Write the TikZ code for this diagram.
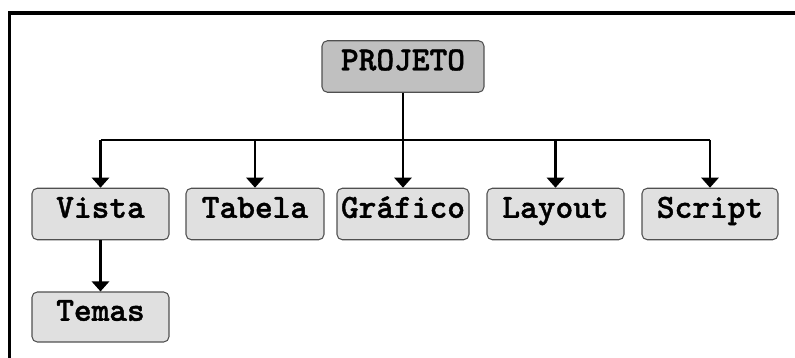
\documentclass[tikz,border=0pt]{standalone}
\usepackage{fontspec}
\setmonofont{lmmonolt10}[Extension=.otf, UprightFont=*-regular, BoldFont=*-bold, BoldFeatures={FakeBold=1.2}]
\usetikzlibrary{arrows.meta}
\definecolor{boxgray}{HTML}{E0E0E0}
\definecolor{topgray}{HTML}{C0C0C0}
\definecolor{edgegray}{HTML}{505050}
\tikzset{
  box/.style={draw=edgegray, line width=0.6pt, rounded corners=3pt, fill=boxgray,
    minimum height=1.03cm, inner sep=0pt, text height=1.35ex, text depth=0.35ex,
    font=\fontsize{19.2}{22}\selectfont\ttfamily\bfseries},
  conn/.style={line width=1.7pt, black},
  arr/.style={conn, -{Triangle[width=0.34cm,length=0.2cm]}},
}
\begin{document}
\begin{tikzpicture}[x=0.02cm,y=-0.02cm]
\useasboundingbox (0,0) rectangle (795,358);
\coordinate (fb) at (9.5,360);
\coordinate (fc) at (9.5,13);
\coordinate (fr) at (797,13);
\draw[line width=1.8pt] (fb) -- (fc) -- (fr);
\node[box, fill=topgray, minimum width=3.24cm] (P) at (403,66.5) {PROJETO};
\node[box, minimum width=2.74cm] (V) at (100.5,214) {Vista};
\node[box, minimum width=2.76cm] (T) at (255,214) {Tabela};
\node[box, minimum width=2.64cm] (G) at (403,214) {Gráfico};
\node[box, minimum width=2.74cm] (L) at (555.5,214) {Layout};
\node[box, minimum width=2.72cm] (S) at (710,214) {Script};
\node[box, minimum width=2.74cm, minimum height=1.0cm] (M) at (100.5,317) {Temas};
\coordinate (bar) at (403,140);
\coordinate (bl) at (V.north |- bar);
\coordinate (br) at (S.north |- bar);
\draw[conn] (bl) -- (br);
\draw[arr] (P.south) -- (G.north);
\draw[arr] (bl) -- (V.north);
\draw[arr] (T.north |- bar) -- (T.north);
\draw[arr] (L.north |- bar) -- (L.north);
\draw[arr] (br) -- (S.north);
\draw[arr] (V.south) -- (M.north);
\end{tikzpicture}
\end{document}
